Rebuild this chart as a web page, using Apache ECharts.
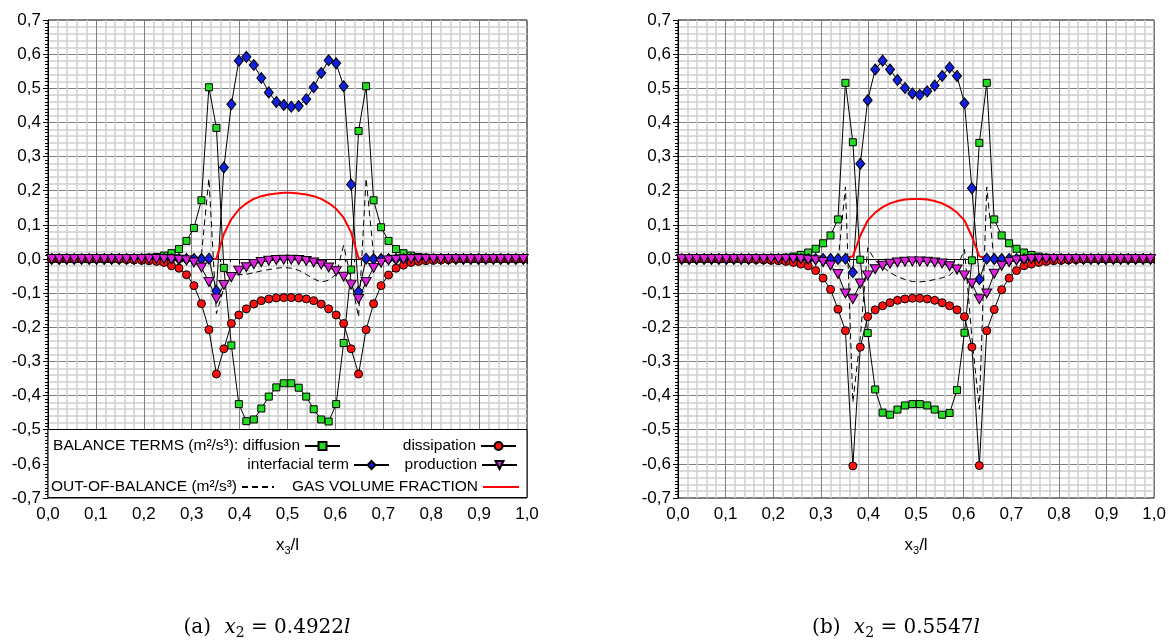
<!DOCTYPE html>
<html>
<head>
<meta charset="utf-8">
<script src="https://cdn.jsdelivr.net/npm/echarts@6/dist/echarts.min.js"></script>
<style>html,body{margin:0;padding:0;background:#fff}#c{width:1169px;height:644px}</style>
</head>
<body>
<div id="c"></div>
<script>
// x positions (cell centres, x3/l)
const x3 = [0.0078,0.0234,0.0391,0.0547,0.0703,0.0859,0.1016,0.1172,
 0.1328,0.1484,0.1641,0.1797,0.1953,0.2109,0.2266,0.2422,
 0.2578,0.2734,0.2891,0.3047,0.3203,0.3359,0.3516,0.3672,
 0.3828,0.3984,0.4141,0.4297,0.4453,0.4609,0.4766,0.4922,
 0.5078,0.5234,0.5391,0.5547,0.5703,0.5859,0.6016,0.6172,
 0.6328,0.6484,0.6641,0.6797,0.6953,0.7109,0.7266,0.7422,
 0.7578,0.7734,0.7891,0.8047,0.8203,0.8359,0.8516,0.8672,
 0.8828,0.8984,0.9141,0.9297,0.9453,0.9609,0.9766,0.9922];

// ---- panel (a) x2 = 0.4922 l ----
const diffusionA = [0,0,0,0,0,0,0,0,
 0,0.001,0.001,0.002,0.003,0.004,0.006,0.010,
 0.017,0.029,0.053,0.091,0.172,0.503,0.384,-0.026,
 -0.253,-0.425,-0.475,-0.470,-0.438,-0.403,-0.376,-0.364,
 -0.364,-0.377,-0.403,-0.440,-0.470,-0.476,-0.425,-0.246,
 -0.031,0.375,0.506,0.172,0.093,0.053,0.029,0.017,
 0.010,0.006,0.004,0.003,0.002,0.001,0.001,0,
 0,0,0,0,0,0,0,0];
const interfacialA = [0,0,0,0,0,0,0,0,
 0,0,0,0,0,0,0,0,
 0,0,0,0,0,0.001,-0.094,0.268,
 0.453,0.581,0.592,0.568,0.530,0.488,0.460,0.451,
 0.446,0.448,0.468,0.503,0.545,0.582,0.573,0.506,
 0.218,-0.096,0.001,0,0,0,0,0,
 0,0,0,0,0,0,0,0,
 0,0,0,0,0,0,0,0];
const dissipationA = [0,0,0,0,0,0,0,0,
 0,-0.001,-0.002,-0.003,-0.004,-0.005,-0.007,-0.010,
 -0.020,-0.027,-0.046,-0.078,-0.131,-0.207,-0.337,-0.263,
 -0.189,-0.164,-0.146,-0.132,-0.122,-0.117,-0.114,-0.113,
 -0.113,-0.114,-0.117,-0.122,-0.132,-0.146,-0.164,-0.189,
 -0.263,-0.337,-0.207,-0.131,-0.078,-0.047,-0.027,-0.018,
 -0.010,-0.007,-0.005,-0.004,-0.003,-0.002,-0.001,0,
 0,0,0,0,0,0,0,0];
const productionA = [0,0,0,0,0,0,0,0,
 0,0,0,0,0,0,0,0,
 -0.001,-0.002,-0.004,-0.010,-0.025,-0.067,-0.116,-0.076,
 -0.053,-0.034,-0.024,-0.015,-0.009,-0.005,-0.003,-0.002,
 -0.002,-0.003,-0.006,-0.010,-0.016,-0.025,-0.036,-0.052,
 -0.075,-0.117,-0.067,-0.026,-0.011,-0.004,-0.002,-0.001,
 0,0,0,0,0,0,0,0,
 0,0,0,0,0,0,0,0];
const outOfBalanceA = [0,0,0,0,0,0,0,0,
 0,0,0,0,0,0,0,0,
 0,0,0.001,0.004,0.012,0.236,-0.160,-0.085,
 -0.045,-0.046,-0.045,-0.040,-0.035,-0.031,-0.027,-0.025,
 -0.027,-0.033,-0.045,-0.058,-0.068,-0.062,-0.045,0.040,
 -0.060,-0.170,0.236,0.012,0.004,0.001,0,0,
 0,0,0,0,0,0,0,0,
 0,0,0,0,0,0,0,0];
const gasA = [0,0,0,0,0,0,0,0,
 0,0,0,0,0,0,0,0,
 0,0,0,0,0,0,0.001,0.073,
 0.117,0.145,0.163,0.176,0.184,0.189,0.192,0.194,
 0.194,0.192,0.189,0.184,0.176,0.164,0.147,0.121,
 0.078,0.002,0,0,0,0,0,0,
 0,0,0,0,0,0,0,0,
 0,0,0,0,0,0,0,0];

// ---- panel (b) x2 = 0.5547 l ----
const diffusionB = [0,0,0,0,0,0,0,0,
 0,0,0.001,0.001,0.002,0.003,0.004,0.007,
 0.012,0.019,0.030,0.046,0.069,0.116,0.516,0.342,
 -0.002,-0.217,-0.382,-0.450,-0.456,-0.441,-0.429,-0.425,
 -0.425,-0.429,-0.441,-0.456,-0.451,-0.384,-0.216,-0.004,
 0.340,0.516,0.116,0.069,0.046,0.030,0.019,0.012,
 0.007,0.004,0.003,0.002,0.001,0.001,0,0,
 0,0,0,0,0,0,0,0];
const interfacialB = [0,0,0,0,0,0,0,0,
 0,0,0,0,0,0,0,0,
 0,0,0,0,0,0,0.001,-0.039,
 0.279,0.465,0.555,0.581,0.555,0.524,0.501,0.485,
 0.481,0.491,0.508,0.536,0.561,0.536,0.456,0.207,
 -0.059,0.001,0,0,0,0,0,0,
 0,0,0,0,0,0,0,0,
 0,0,0,0,0,0,0,0];
const dissipationB = [0,0,0,0,0,0,0,0,
 0,-0.001,-0.002,-0.003,-0.004,-0.005,-0.007,-0.010,
 -0.015,-0.020,-0.034,-0.056,-0.089,-0.147,-0.210,-0.606,
 -0.258,-0.169,-0.149,-0.137,-0.128,-0.121,-0.117,-0.115,
 -0.115,-0.117,-0.121,-0.128,-0.137,-0.149,-0.169,-0.258,
 -0.605,-0.210,-0.148,-0.090,-0.056,-0.034,-0.020,-0.015,
 -0.010,-0.007,-0.005,-0.004,-0.003,-0.002,-0.001,0,
 0,0,0,0,0,0,0,0];
const productionB = [0,0,0,0,0,0,0,0,
 0,0,0,0,0,0,0,0,
 0,-0.002,-0.004,-0.009,-0.019,-0.044,-0.101,-0.118,
 -0.072,-0.048,-0.030,-0.020,-0.014,-0.010,-0.008,-0.007,
 -0.007,-0.008,-0.010,-0.013,-0.021,-0.031,-0.048,-0.072,
 -0.118,-0.101,-0.043,-0.020,-0.009,-0.004,-0.002,0,
 0,0,0,0,0,0,0,0,
 0,0,0,0,0,0,0,0];
const outOfBalanceB = [0,0,0,0,0,0,0,0,
 0,0,0,0,0,0,0,0,
 0,0,0,0.002,0.005,-0.010,0.211,-0.420,
 -0.230,0.033,-0.005,-0.023,-0.040,-0.052,-0.060,-0.066,
 -0.067,-0.065,-0.060,-0.055,-0.048,-0.025,0.028,-0.230,
 -0.440,0.211,-0.010,0.005,0.002,0,0,0,
 0,0,0,0,0,0,0,0,
 0,0,0,0,0,0,0,0];
const gasB = [0,0,0,0,0,0,0,0,
 0,0,0,0,0,0,0,0,
 0,0,0,0,0,0,0.002,0.008,
 0.068,0.113,0.136,0.152,0.163,0.170,0.174,0.176,
 0.176,0.174,0.170,0.163,0.152,0.136,0.113,0.066,
 0.008,0.002,0,0,0,0,0,0,
 0,0,0,0,0,0,0,0,
 0,0,0,0,0,0,0,0];

const xTicks = ['0,0','0,1','0,2','0,3','0,4','0,5','0,6','0,7','0,8','0,9','1,0'];
const captions = ['(a)', '(b)'];
const captionValues = ['0.4922', '0.5547'];

const FONT = "'Liberation Sans', Arial, Helvetica, sans-serif";
const SERIF = "'DejaVu Serif', 'Liberation Serif', serif";
const pair = ys => x3.map((x, i) => [x, ys[i]]);
const fmt = v => (Math.round(v * 10) / 10).toFixed(1).replace('.', ',');

const COL = {diff: '#22dd22', diss: '#ff1010', inter: '#1020e0', prod: '#dd22dd', gas: '#ff0000'};
const TRI_DOWN = 'path://M0,0 L10,0 L5,9 Z';

const grids = [
  {left: 48, top: 20, width: 479, height: 478, show: true, borderColor: '#000', borderWidth: 1, backgroundColor: 'transparent'},
  {left: 678, top: 20, width: 478, height: 478, show: true, borderColor: '#000', borderWidth: 1, backgroundColor: 'transparent'}
];

const xAxes = [0, 1].map(g => ({
  gridIndex: g, type: 'value', min: 0, max: 1, interval: 0.1,
  axisLine: {show: true, lineStyle: {color: '#000', width: 1}},
  axisTick: {show: true, length: 5, lineStyle: {color: '#000'}},
  minorTick: {show: true, splitNumber: 5, length: 3, lineStyle: {color: '#000'}},
  splitLine: {show: true, lineStyle: {color: '#7e7e7e', width: 1}},
  minorSplitLine: {show: true, lineStyle: {color: '#d0d0d0', width: 1.5}},
  axisLabel: {fontSize: 17, color: '#000', fontFamily: FONT, margin: 8,
    formatter: v => xTicks[Math.round(v * 10)]},
  name: '{a|x}{s|3}{a|/l}', nameLocation: 'middle', nameGap: 37,
  nameTextStyle: {fontFamily: FONT, color: '#000',
    rich: {a: {fontSize: 17, fontFamily: FONT, color: '#000'},
           s: {fontSize: 11, fontFamily: FONT, color: '#000', padding: [10, 0, 0, 0]}}}
}));

const yAxes = [];
[0, 1].forEach(g => {
  yAxes.push({
    gridIndex: g, type: 'value', min: -0.7, max: 0.7, interval: 0.1, position: 'left',
    axisLine: {show: true, onZero: false, lineStyle: {color: '#000', width: 1}},
    axisTick: {show: false},
    minorTick: {show: false, splitNumber: 5},
    splitLine: {show: true, lineStyle: {color: '#7e7e7e', width: 1}},
    minorSplitLine: {show: true, lineStyle: {color: '#d0d0d0', width: 1.5}},
    axisLabel: {fontSize: 17, color: '#000', fontFamily: FONT, margin: 7, formatter: fmt}
  });
  yAxes.push({
    gridIndex: g, type: 'value', min: -0.7, max: 0.7, interval: 0.1, position: 'left', offset: 0,
    axisLine: {show: false}, axisLabel: {show: false}, splitLine: {show: false},
    axisTick: {show: true, length: 5, lineStyle: {color: '#000'}},
    minorTick: {show: true, splitNumber: 10, length: 3, lineStyle: {color: '#000'}}
  });
});

function markerSeries(g, name, ys, symbol, size, fill) {
  return {
    type: 'line', name, xAxisIndex: g, yAxisIndex: g * 2, data: pair(ys),
    symbol, symbolSize: size, showSymbol: true, showAllSymbol: true,
    lineStyle: {color: '#000', width: 1},
    itemStyle: {color: fill, borderColor: '#000', borderWidth: 1},
    emphasis: {disabled: true}, silent: true
  };
}
function dotSeries(g, ys) {
  return {
    type: 'scatter', name: 'dot' + g, xAxisIndex: g, yAxisIndex: g * 2, data: pair(ys),
    symbol: 'rect', symbolSize: 2, itemStyle: {color: '#111'}, silent: true, emphasis: {disabled: true}
  };
}

const panels = [
  {diff: diffusionA, inter: interfacialA, diss: dissipationA, prod: productionA, oob: outOfBalanceA, gas: gasA},
  {diff: diffusionB, inter: interfacialB, diss: dissipationB, prod: productionB, oob: outOfBalanceB, gas: gasB}
];

const series = [];
panels.forEach((p, g) => {
  series.push(markerSeries(g, 'diffusion', p.diff, 'rect', 7, COL.diff));
  series.push(dotSeries(g, p.diff));
  series.push(markerSeries(g, 'interfacial term', p.inter, 'diamond', [9, 11], COL.inter));
  series.push(markerSeries(g, 'dissipation', p.diss, 'circle', 8, COL.diss));
  series.push(dotSeries(g, p.diss));
  series.push(markerSeries(g, 'production', p.prod, TRI_DOWN, [10, 9], COL.prod));
  series.push({
    type: 'line', name: 'out-of-balance', xAxisIndex: g, yAxisIndex: g * 2, data: pair(p.oob),
    symbol: 'none', lineStyle: {color: '#000', width: 1, type: [6, 4]}, silent: true, emphasis: {disabled: true}
  });
  series.push({
    type: 'line', name: 'gas', xAxisIndex: g, yAxisIndex: g * 2, data: pair(p.gas),
    symbol: 'none', lineStyle: {color: COL.gas, width: 2}, silent: true, emphasis: {disabled: true}
  });
});

const legendLabels = {
  'diffusion': 'BALANCE TERMS (m²/s³): diffusion',
  'dissipation': 'dissipation',
  'interfacial term': 'interfacial term',
  'production': 'production',
  'out-of-balance': 'OUT-OF-BALANCE (m²/s³)',
  'gas': 'GAS VOLUME FRACTION'
};
function legendItem(name, right, top, hideSymbol, w) {
  const l = {
    data: [name], right, top, align: 'right', orient: 'horizontal', padding: 0,
    itemWidth: w || 35, itemHeight: 10, itemGap: 0, selectedMode: false, z: 20,
    textStyle: {fontSize: 15.5, color: '#000', fontFamily: FONT, lineHeight: 18},
    formatter: n => legendLabels[n]
  };
  if (hideSymbol) l.itemStyle = {opacity: 0};
  return l;
}
const legends = [
  legendItem('diffusion', 828, 437),
  legendItem('dissipation', 652, 437),
  legendItem('interfacial term', 779, 456),
  legendItem('production', 651, 456),
  legendItem('out-of-balance', 894, 478, true, 32),
  legendItem('gas', 649, 478, true, 36)
];

const graphics = [
  {type: 'rect', z: 10, shape: {x: 48, y: 429.5, width: 479, height: 68}, style: {fill: '#fff', stroke: '#000', lineWidth: 1}}
];
[267, 896].forEach((cx, k) => {
  graphics.push({
    type: 'text', z: 10, x: cx, y: 628,
    style: {
      text: '{n|' + captions[k] + '}    {i|x}{s|2}{n| = ' + captionValues[k] + '}{i|l}',
      textAlign: 'center', textVerticalAlign: 'middle',
      rich: {
        n: {fontFamily: SERIF, fontSize: 20, fill: '#000'},
        i: {fontFamily: SERIF, fontSize: 20, fontStyle: 'italic', fill: '#000'},
        s: {fontFamily: SERIF, fontSize: 14, fill: '#000', padding: [10, 0, 0, 0]}
      }
    }
  });
});

const chart = echarts.init(document.getElementById('c'), null, {renderer: 'canvas'});
chart.setOption({
  backgroundColor: '#fff',
  animation: false,
  textStyle: {fontFamily: FONT},
  grid: grids,
  xAxis: xAxes,
  yAxis: yAxes,
  legend: legends,
  series,
  graphic: graphics
});
</script>
</body>
</html>
